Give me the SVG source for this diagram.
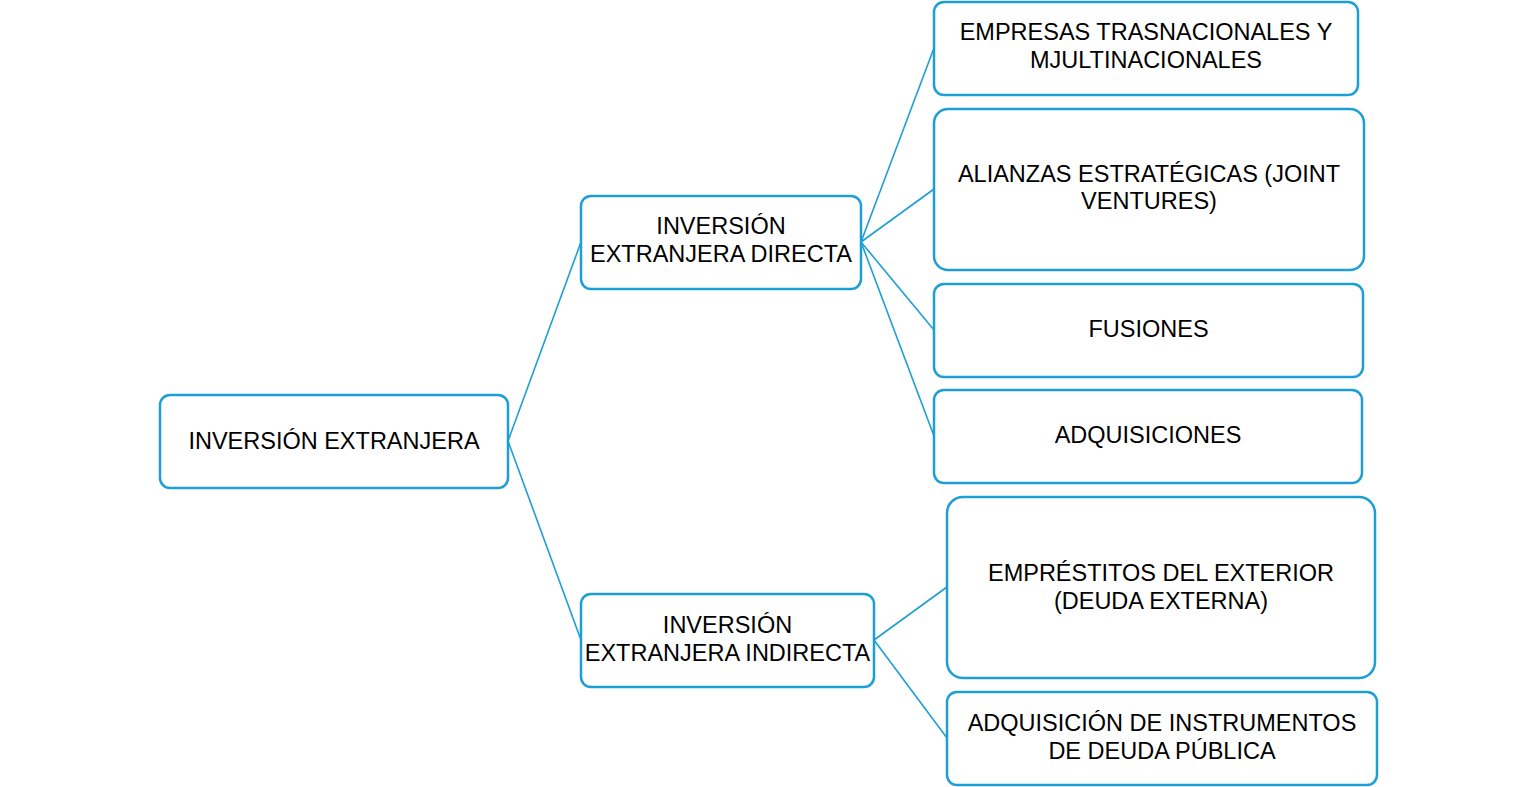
<svg xmlns="http://www.w3.org/2000/svg" width="1536" height="787" viewBox="0 0 1536 787">
<style>
.box{fill:#fff;stroke:#1d9fd5;stroke-width:2.5}
.ln{stroke:#1d9fd5;stroke-width:1.6;fill:none}
text{font-family:"Liberation Sans",Arial,sans-serif;font-size:23.5px;fill:#000;text-anchor:middle}
</style>
<rect width="1536" height="787" fill="#fff"/>
<g id="connectors">
<line class="ln" x1="508" y1="441" x2="581" y2="242"/>
<line class="ln" x1="508" y1="441" x2="581" y2="640"/>
<line class="ln" x1="861" y1="242" x2="934" y2="48"/>
<line class="ln" x1="861" y1="242" x2="934" y2="189"/>
<line class="ln" x1="861" y1="242" x2="934" y2="330"/>
<line class="ln" x1="861" y1="242" x2="934" y2="436"/>
<line class="ln" x1="874" y1="640" x2="947" y2="587"/>
<line class="ln" x1="874" y1="640" x2="947" y2="738"/>
</g>
<g id="root">
<rect class="box" x="160" y="395" width="348" height="93" rx="10"/>
<text x="334" y="449">INVERSIÓN EXTRANJERA</text>
</g>
<g id="ied">
<rect class="box" x="581" y="196" width="280" height="93" rx="10"/>
<text x="721" y="234">INVERSIÓN</text>
<text x="721" y="262">EXTRANJERA DIRECTA</text>
</g>
<g id="iei">
<rect class="box" x="581" y="594" width="293" height="93" rx="10"/>
<text x="727.5" y="633">INVERSIÓN</text>
<text x="727.5" y="661">EXTRANJERA INDIRECTA</text>
</g>
<g id="empresas">
<rect class="box" x="934" y="2" width="424" height="93" rx="10"/>
<text x="1146" y="40">EMPRESAS TRASNACIONALES Y</text>
<text x="1146" y="68">MJULTINACIONALES</text>
</g>
<g id="alianzas">
<rect class="box" x="934" y="109" width="430" height="161" rx="14"/>
<text x="1149" y="182">ALIANZAS ESTRATÉGICAS (JOINT</text>
<text x="1149" y="209">VENTURES)</text>
</g>
<g id="fusiones">
<rect class="box" x="934" y="284" width="429" height="93" rx="10"/>
<text x="1148.5" y="337">FUSIONES</text>
</g>
<g id="adquisiciones">
<rect class="box" x="934" y="390" width="428" height="93" rx="10"/>
<text x="1148" y="443">ADQUISICIONES</text>
</g>
<g id="emprestitos">
<rect class="box" x="947" y="497" width="428" height="181" rx="16"/>
<text x="1161" y="581">EMPRÉSTITOS DEL EXTERIOR</text>
<text x="1161" y="609">(DEUDA EXTERNA)</text>
</g>
<g id="deuda-publica">
<rect class="box" x="947" y="692" width="430" height="93" rx="10"/>
<text x="1162" y="731">ADQUISICIÓN DE INSTRUMENTOS</text>
<text x="1162" y="759">DE DEUDA PÚBLICA</text>
</g>
</svg>
